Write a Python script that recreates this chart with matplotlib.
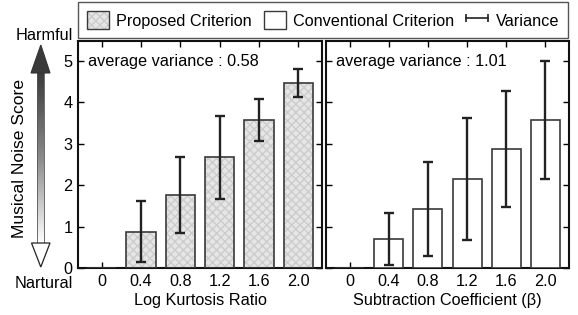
import numpy as np
import matplotlib
matplotlib.use("Agg")
import matplotlib.pyplot as plt
from matplotlib.patches import Patch, Polygon, Rectangle
from matplotlib.lines import Line2D
from matplotlib.legend_handler import HandlerTuple, HandlerLine2D
from matplotlib.colors import LinearSegmentedColormap

plt.rcParams['font.family'] = ['Liberation Sans', 'DejaVu Sans']
plt.rcParams['hatch.linewidth'] = 1.0

categories = ["0", "0.4", "0.8", "1.2", "1.6", "2.0"]
proposed_mean = [0.0, 0.88, 1.77, 2.67, 3.57, 4.47]
proposed_err = [0.0, 0.73, 0.92, 1.00, 0.50, 0.34]
conventional_mean = [0.0, 0.70, 1.42, 2.15, 2.87, 3.57]
conventional_err = [0.0, 0.62, 1.13, 1.47, 1.40, 1.43]
yticks = [0, 1, 2, 3, 4, 5]
text_left = "average variance : 0.58"
text_right = "average variance : 1.01"
xlabel_left = "Log Kurtosis Ratio"
xlabel_right = "Subtraction Coefficient (β)"
ylabel = "Musical Noise Score"

W, H = 578, 315
fig = plt.figure(figsize=(W / 100, H / 100), dpi=100)

def ax_rect(x0, x1, y0, y1):
    return [x0 / W, 1 - y1 / H, (x1 - x0) / W, (y1 - y0) / H]

axL = fig.add_axes(ax_rect(78, 322, 41, 268))
axR = fig.add_axes(ax_rect(326, 569, 41, 268))

FS = 11.7
x = np.arange(len(categories))
bw = 0.74
edge = '#3a3a3a'
hatch_face = '#e6e6e6'
hatch_col = '#cccccc'
hatch_pat = 'xxxx'

for ax, mean, err, hatched in [(axL, proposed_mean, proposed_err, True),
                               (axR, conventional_mean, conventional_err, False)]:
    if hatched:
        ax.bar(x, mean, width=bw, color=hatch_face, edgecolor=hatch_col,
               linewidth=0, hatch=hatch_pat, zorder=2)
        ax.bar(x, mean, width=bw, fill=False, edgecolor=edge, linewidth=1.2, zorder=3)
    else:
        ax.bar(x, mean, width=bw, color='white', edgecolor=edge, linewidth=1.2, zorder=3)
    idx = [i for i in range(len(x)) if err[i] > 0]
    ax.errorbar(x[idx], np.array(mean)[idx], yerr=np.array(err)[idx], fmt='none',
                ecolor='#222222', elinewidth=1.7, capsize=3.5, capthick=1.7, zorder=4)
    ax.set_xlim(-0.6, 5.6)
    ax.set_ylim(0, 5.48)
    ax.set_xticks(x)
    ax.set_xticklabels(categories, fontsize=FS)
    ax.set_yticks(yticks)
    ax.tick_params(direction='in', top=True, right=True, length=4, width=1,
                   labelsize=FS, pad=4)
    for s in ax.spines.values():
        s.set_linewidth(1.5)
        s.set_color('#111111')

axL.set_yticklabels([str(v) for v in yticks])
axR.set_yticklabels([])
axL.set_xlabel(xlabel_left, fontsize=FS, labelpad=3)
axR.set_xlabel(xlabel_right, fontsize=FS, labelpad=3)
axL.text(0.04, 0.91, text_left, transform=axL.transAxes, fontsize=FS, va='center', ha='left')
axR.text(0.04, 0.91, text_right, transform=axR.transAxes, fontsize=FS, va='center', ha='left')

# Legend
h1 = (Patch(facecolor=hatch_face, edgecolor=hatch_col, hatch=hatch_pat, linewidth=0),
      Patch(fill=False, edgecolor=edge, linewidth=1.0))
h2 = Patch(facecolor='white', edgecolor=edge, linewidth=1.0)
h3 = Line2D([], [], color='#222222', linewidth=1.2, marker='|', markersize=6,
            markeredgewidth=1.2)
leg = fig.legend([h1, h2, h3], ["Proposed Criterion", "Conventional Criterion", "Variance"],
                 handler_map={tuple: HandlerTuple(ndivide=1),
                              h3: HandlerLine2D(marker_pad=0.0, numpoints=2)},
                 loc='lower left', bbox_to_anchor=(78 / W, 1 - 38 / H, 490 / W, 35 / H),
                 mode='expand', ncol=3, fontsize=FS, frameon=True, fancybox=False,
                 edgecolor='#555555', framealpha=1,
                 handlelength=1.35, handleheight=1.3, handletextpad=0.45,
                 borderpad=0.55, borderaxespad=0, columnspacing=0.8)
leg.get_frame().set_linewidth(1.0)

# Arrow on the left
axA = fig.add_axes([0, 0, 1, 1], zorder=-1)
axA.set_xlim(0, W)
axA.set_ylim(H, 0)
axA.axis('off')
grad = np.linspace(0, 1, 256).reshape(-1, 1)
cmap = LinearSegmentedColormap.from_list('g', ['#3a3a3a', '#8a8a8a', '#ffffff'])
axA.imshow(grad, cmap=cmap, extent=(37.3, 44.3, 243, 72), aspect='auto', zorder=1)
axA.add_patch(Rectangle((37.3, 72), 7, 171, fill=False, edgecolor='#555555', linewidth=0.6, zorder=2))
axA.add_patch(Polygon([(31, 73), (50, 73), (40.8, 45)], closed=True,
                      facecolor='#3a3a3a', edgecolor='#333333', linewidth=0.8, zorder=3))
axA.add_patch(Polygon([(31.5, 243), (50, 243), (40.8, 267)], closed=True,
                      facecolor='white', edgecolor='#222222', linewidth=0.9, zorder=3))
axA.text(44, 35, "Harmful", fontsize=FS, ha='center', va='center')
axA.text(44, 283, "Nartural", fontsize=FS, ha='center', va='center')
axA.text(20, 158, ylabel, fontsize=12.6, ha='center', va='center', rotation=90)

fig.savefig("out.png", dpi=100)
